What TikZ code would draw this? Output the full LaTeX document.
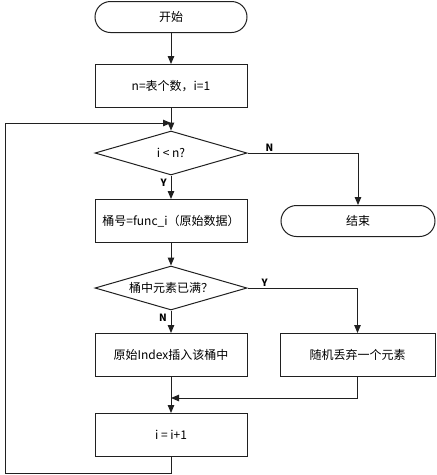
\documentclass[tikz,border=0pt]{standalone}
\usepackage{fontspec}
\setmainfont{Liberation Sans}
\newfontfamily\cjk{Noto Sans CJK SC}
\usetikzlibrary{arrows.meta,positioning,shapes.geometric,shapes.misc}
\definecolor{linec}{HTML}{202020}
\tikzset{
  >={Triangle[length=8pt,width=6.5pt]},
  every node/.style={font=\cjk\fontsize{12}{14}\selectfont},
  term/.style={draw=linec,line width=1pt,rounded rectangle,minimum width=152pt,minimum height=31pt,inner sep=0pt},
  proc/.style={draw=linec,line width=1pt,rectangle,minimum width=152pt,minimum height=43pt,inner sep=0pt},
  test/.style={draw=linec,line width=1pt,diamond,aspect=3.6,minimum width=152pt,minimum height=44pt,inner sep=0pt},
  flow/.style={->,line width=1pt,draw=linec},
  lbl/.style={font=\cjk\fontsize{10}{12}\selectfont\bfseries,inner sep=1pt},
}

\begin{document}
\begin{tikzpicture}[x=1pt,y=1pt]
  \useasboundingbox (0,0) rectangle (437,-475);
  \node[term] (start) at (171,-17) {开始};
  \node[proc] (init) at (171,-86) {n=表个数，i=1};
  \node[test] (cond1) at (171,-153) {i < n?};
  \node[proc] (bucket) at (171,-221) {桶号=func\_i（原始数据）};
  \node[test] (cond2) at (171,-288) {桶中元素已满？};
  \node[proc] (insert) at (171,-355) {原始Index插入该桶中};
  \node[proc,minimum width=155pt] (drop) at (357.5,-355) {随机丢弃一个元素};
  \node[proc] (incr) at (171,-435) {i = i+1};
  \node[term,minimum width=154pt] (stop) at (358,-221) {结束};
  \coordinate (join) at (171,-398);
  \coordinate (back) at (5,-473);
  \coordinate (loopin) at (171,-123);
  % main line
  \draw[flow] (start) -- (init);
  \draw[flow] (init) -- (cond1);
  \draw[flow] (cond1) -- (bucket);
  \draw[flow] (bucket) -- (cond2);
  \draw[flow] (cond2) -- (insert);
  \draw[flow] (insert) -- (incr);
  % branches
  \draw[flow] (cond1.east) -| (stop.north);
  \draw[flow] (cond2.east) -| (drop.north);
  \draw[flow] (drop.south) |- (join);
  \draw[flow] (incr.south) |- (back) |- (loopin);
  % labels
  \node[lbl,anchor=north east] (y1) at ([xshift=-3pt,yshift=-2pt]cond1.south) {Y};
  \node[lbl,anchor=south west] (n1) at ([xshift=17pt]cond1.east) {N};
  \node[lbl,anchor=south west] (y2) at ([xshift=13pt]cond2.east) {Y};
  \node[lbl,anchor=north east] (n2) at ([xshift=-3pt,yshift=-2pt]cond2.south) {N};
\end{tikzpicture}
\end{document}
